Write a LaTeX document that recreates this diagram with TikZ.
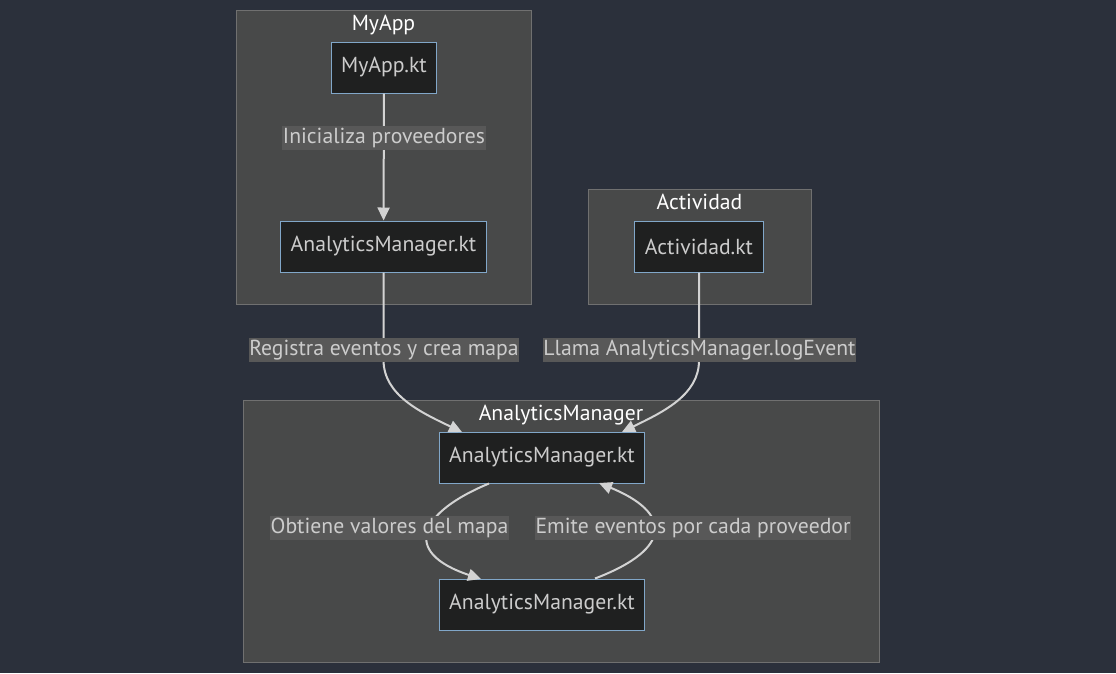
\documentclass[tikz,border=0pt]{standalone}
\usepackage{fontspec}
\setmainfont{PT Sans}
\usetikzlibrary{arrows.meta}
\definecolor{bgc}{HTML}{2B303B}
\definecolor{clfill}{HTML}{484949}
\definecolor{clline}{HTML}{707070}
\definecolor{ndfill}{HTML}{1F2020}
\definecolor{ndline}{HTML}{81A7C9}
\definecolor{lbfill}{HTML}{585858}
\definecolor{txt}{HTML}{CCCCCC}
\definecolor{lnc}{HTML}{D3D3D3}
\begin{document}
\begin{tikzpicture}[x=1pt,y=-1pt,font=\fontsize{21.7}{24}\selectfont,
clbox/.style={draw=clline,fill=clfill,line width=1pt},
cltitle/.style={text=white,anchor=north,inner sep=0pt},
ndbox/.style={draw=ndline,fill=ndfill,text=txt,line width=1pt,minimum height=51pt,inner xsep=10pt},
elbl/.style={fill=lbfill,text=txt,inner xsep=0.5pt,inner ysep=0pt,minimum height=24pt},
flow/.style={draw=lnc,line width=2pt,-{Triangle[length=13pt,width=12pt]}}]
\fill[bgc](0,0)rectangle(1116,673);
\draw[clbox](236,10)rectangle(531,304);
\draw[clbox](588,189)rectangle(811,304);
\draw[clbox](243,400)rectangle(879,662);
\node[cltitle](tMyApp)at(383.5,14.5){MyApp};
\node[cltitle](tAct)at(699.5,193.5){Actividad};
\node[cltitle](tAM)at(561,404.5){AnalyticsManager};
\node[ndbox](myapp)at(384,67.5){MyApp.kt};
\node[ndbox](amA)at(383.5,246.5){AnalyticsManager.kt};
\node[ndbox](act)at(699,246.5){Actividad.kt};
\node[ndbox](amB)at(542,457.5){AnalyticsManager.kt};
\node[ndbox](amC)at(542,604.5){AnalyticsManager.kt};
\draw[flow](myapp)--(amA);
\draw[flow](amA.south)--++(0,88) .. controls (384,395) and (420,412) .. (462,432);
\draw[flow](act.south)--++(0,88) .. controls (699,395) and (663,412) .. (622,432);
\draw[flow](amB.south)++(-53,0) .. controls (420,512) and (400,552) .. (481,579);
\draw[flow](amC.north)++(53,0) .. controls (675,548) and (670,512) .. (599,483);
\node[elbl](lInit)at(384,138){Inicializa proveedores};
\node[elbl](lReg)at(384,350){Registra eventos y crea mapa};
\node[elbl](lLlama)at(699.5,350){Llama AnalyticsManager.logEvent};
\node[elbl](lObt)at(389.5,528){Obtiene valores del mapa};
\node[elbl](lEmi)at(693,528){Emite eventos por cada proveedor};
\end{tikzpicture}
\end{document}
